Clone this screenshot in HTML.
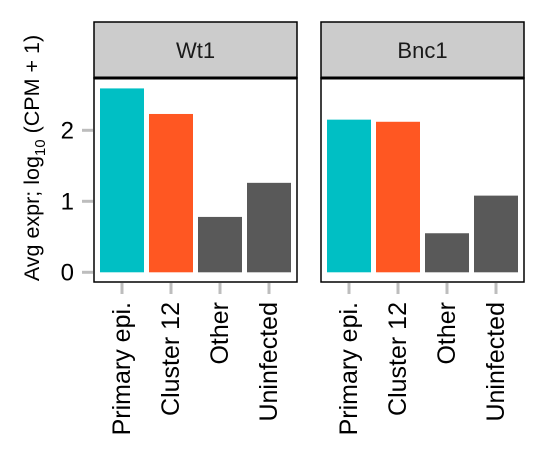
<!DOCTYPE html>
<html><head><meta charset="utf-8"><style>
body{margin:0;background:#fff;}
svg{display:block;font-family:"Liberation Sans",Arial,sans-serif;}
</style></head><body>
<svg id="chart" width="547" height="460"></svg>
<script>
const panels = ["Wt1", "Bnc1"];
const categories = ["Primary epi.", "Cluster 12", "Other", "Uninfected"];
const wt1Values = [2.59, 2.23, 0.78, 1.26];
const bnc1Values = [2.15, 2.12, 0.55, 1.08];
const yTicks = [0, 1, 2];
const colors = ["#00BFC4", "#FF5722", "#595959", "#595959"];

const svgEl = document.getElementById('chart');
const NS = 'http://www.w3.org/2000/svg';
function mk(tag, attrs, parent){const e=document.createElementNS(NS,tag);for(const k in attrs)e.setAttribute(k,attrs[k]);(parent||svgEl).appendChild(e);return e;}
const y0 = 272.3, pxPerUnit = 71;
function yScale(v){return y0 - v*pxPerUnit;}
const panelLefts = [94, 321], panelW = 203, panelTop = 22, stripBottom = 78, panelBottom = 282;
const seriesList = [wt1Values, bnc1Values];

// y-axis title
const yt = mk('text',{x:0,y:0,transform:'translate(39,158) rotate(-90)','text-anchor':'middle','font-size':21.5,fill:'#000'});


const t1 = mk('tspan',{},yt); t1.textContent = 'Avg expr; log';
const t2 = mk('tspan',{'font-size':15,dy:6},yt); t2.textContent = '10';
const t3 = mk('tspan',{dy:-6},yt); t3.textContent = ' (CPM + 1)';

// y ticks
yTicks.forEach(t=>{
  const l = mk('line',{x1:82,x2:93,y1:yScale(t),y2:yScale(t),stroke:'#bdbdbd','stroke-width':3});
  
  
  const tx = mk('text',{x:74,y:yScale(t)+8,'text-anchor':'end','font-size':24,fill:'#000'});
  
  
  tx.textContent = t;
});

panels.forEach((p,pi)=>{
  const L = panelLefts[pi];
  const g = mk('g',{});
  
  
  const strip = mk('rect',{x:L,y:panelTop,width:panelW,height:stripBottom-panelTop,fill:'#cccccc',stroke:'#000','stroke-width':1.5},g);
  
  
  const st = mk('text',{x:L+panelW/2,y:58,'text-anchor':'middle','font-size':22,fill:'#1a1a1a'},g);
  
  
  st.textContent = p;
  const frame = mk('rect',{x:L,y:stripBottom,width:panelW,height:panelBottom-stripBottom,fill:'#fff',stroke:'#000','stroke-width':1.5},g);
  
  
  mk('line',{x1:L,x2:L+panelW,y1:stripBottom,y2:stripBottom,stroke:'#000','stroke-width':3},g);
  const band = 49, pad = 6;
  seriesList[pi].forEach((v,i)=>{
    const x = L + pad + i*band;
    const b = mk('rect',{x:x,y:yScale(v),width:44,height:y0-yScale(v),fill:colors[i]},g);
    
    
    const cx = x+22;
    const tk = mk('line',{x1:cx,x2:cx,y1:283,y2:294,stroke:'#bdbdbd','stroke-width':3},g);
    
    
    const lb = mk('text',{x:0,y:0,transform:`translate(${cx+8},302) rotate(-90)`,'text-anchor':'end','font-size':25,fill:'#000'},g);
    
    
    lb.textContent = categories[i];
  });
});
</script>
</body></html>
